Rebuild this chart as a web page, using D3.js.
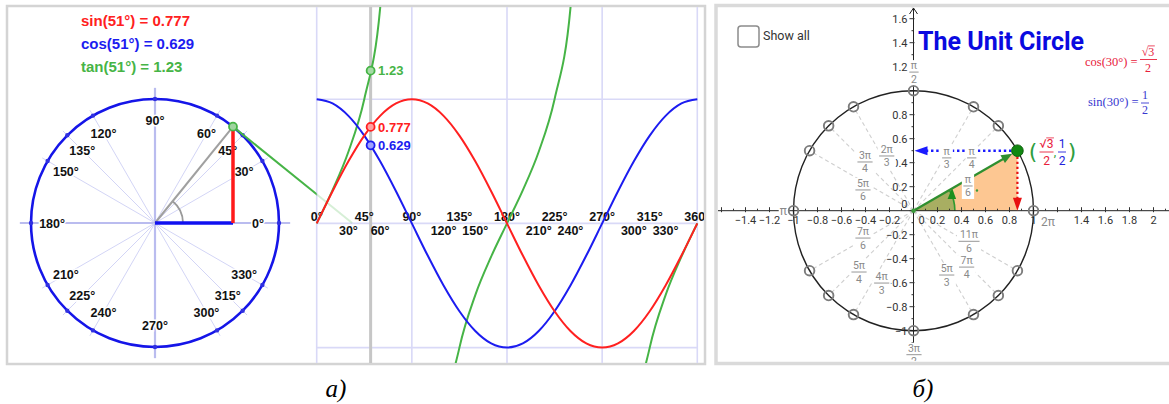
<!DOCTYPE html>
<html><head><meta charset="utf-8">
<script src="https://cdn.jsdelivr.net/npm/d3@7"></script>
<style>
html,body{margin:0;padding:0;background:#fff;}
svg{display:block;font-family:"Liberation Sans",Arial,sans-serif;}
</style></head><body>
<svg id="c" width="1169" height="404"></svg>
<script>
// ---------------- DATA ----------------
const thetaDeg = 51;
const sinTheta = 0.777, cosTheta = 0.629, tanTheta = 1.23;
const readoutTexts = ["sin(51°) = 0.777", "cos(51°) = 0.629", "tan(51°) = 1.23"];
const valueLabels = ["1.23", "0.777", "0.629"];

const circleAngles = [0, 30, 45, 60, 90, 120, 135, 150, 180, 210, 225, 240, 270, 300, 315, 330];
const circleLabels = ["0°","30°","45°","60°","90°","120°","135°","150°","180°","210°","225°","240°","270°","300°","315°","330°"];

const graphTopAngles = [0, 45, 90, 135, 180, 225, 270, 315, 360];
const graphTopLabels = ["0°","45°","90°","135°","180°","225°","270°","315°","360°"];
const graphBottomAngles = [30, 60, 120, 150, 210, 240, 300, 330];
const graphBottomLabels = ["30°","60°","120°","150°","210°","240°","300°","330°"];
const gridAngles = [0, 90, 180, 270, 360];
const gridValues = [-1, 0, 1];

const curveAngles = [0,15,30,45,60,75,90,105,120,135,150,165,180,195,210,225,240,255,270,285,300,315,330,345,360];
const sinValues = [0,0.259,0.5,0.707,0.866,0.966,1,0.966,0.866,0.707,0.5,0.259,0,-0.259,-0.5,-0.707,-0.866,-0.966,-1,-0.966,-0.866,-0.707,-0.5,-0.259,0];
const cosValues = [1,0.966,0.866,0.707,0.5,0.259,0,-0.259,-0.5,-0.707,-0.866,-0.966,-1,-0.966,-0.866,-0.707,-0.5,-0.259,0,0.259,0.5,0.707,0.866,0.966,1];
const tanBranchAngles = [[0,15,30,45,60,75],[105,120,135,150,165,180,195,210,225,240,255],[285,300,315,330,345,360]];
const tanBranchValues = [[0,0.268,0.577,1,1.732,3.732],[-3.732,-1.732,-1,-0.577,-0.268,0,0.268,0.577,1,1.732,3.732],[-3.732,-1.732,-1,-0.577,-0.268,0]];

// right panel
const unitAngles = [0, 30, 45, 60, 90, 120, 135, 150, 180, 210, 225, 240, 270, 300, 315, 330];
const unitNum = ["2π","π","π","π","π","2π","3π","5π","π","7π","5π","4π","3π","5π","7π","11π"];
const unitDen = ["","6","4","3","2","3","4","6","","6","4","3","2","3","4","6"];
const pointAngle = 30;
const pointCos = 0.866, pointSin = 0.5;
const xTickValues = [-1.4,-1.2,-1,-0.8,-0.6,-0.4,-0.2,0.2,0.4,0.6,0.8,1,1.4,1.6,1.8,2];
const xTickLabels = ["−1.4","−1.2","−1","−0.8","−0.6","−0.4","−0.2","0.2","0.4","0.6","0.8","1","1.4","1.6","1.8","2"];
const yTickValues = [-1,-0.8,-0.6,-0.4,-0.2,0.2,0.4,0.6,0.8,1.2,1.4,1.6];
const yTickLabels = ["−1","−0.8","−0.6","−0.4","−0.2","0.2","0.4","0.6","0.8","1.2","1.4","1.6"];
const titleText = "The Unit Circle";
const captions = ["а)", "б)"];

// ---------------- LAYOUT ----------------
const svg = d3.select("#c");
const defs = svg.append("defs");
const rad = d => d * Math.PI / 180;
const C = {sin:"#ff2020", cos:"#1c1cf0", tan:"#46b446", circ:"#1515e8"};
const SANS = "'Liberation Sans', Arial, sans-serif";
const ROBO = "Roboto, 'Liberation Sans', sans-serif";
const SERIF = "'Liberation Serif', 'Times New Roman', serif";

// ===== LEFT FRAME =====
svg.append("rect").attr("x",7).attr("y",6).attr("width",698).attr("height",358)
  .attr("fill","none").attr("stroke","#d4d4d4").attr("stroke-width",2.5);
defs.append("clipPath").attr("id","clipL").append("rect").attr("x",8).attr("y",7).attr("width",696).attr("height",356);
const L = svg.append("g").attr("clip-path","url(#clipL)").style("font-family",SANS);

// unit circle (left)
const cx = 155, cy = 223, R = 124;
const xL = d3.scaleLinear().domain([-1,1]).range([cx-R, cx+R]);
const yL = d3.scaleLinear().domain([-1,1]).range([cy+R, cy-R]);

circleAngles.forEach(a => {
  const axis = a % 90 === 0;
  const ext = axis ? 1.09 : 1.05;
  L.append("line").attr("x1",xL(0)).attr("y1",yL(0))
    .attr("x2",xL(ext*Math.cos(rad(a)))).attr("y2",yL(ext*Math.sin(rad(a))))
    .attr("stroke", axis ? "#babcef" : "#d3d5f6").attr("stroke-width", axis ? 2.2 : 1);
});
L.append("circle").attr("cx",xL(0)).attr("cy",yL(0)).attr("r",xL(1)-xL(0))
  .attr("fill","none").attr("stroke",C.circ).attr("stroke-width",2.6);
L.selectAll(".cdot").data(circleAngles).enter().append("circle")
  .attr("cx",a=>xL(Math.cos(rad(a)))).attr("cy",a=>yL(Math.sin(rad(a)))).attr("r",2.2).attr("fill","#3030e0");
L.selectAll(".clab").data(circleAngles).enter().append("text")
  .attr("x",a=>xL(0.83*Math.cos(rad(a)))).attr("y",a=>yL(0.83*Math.sin(rad(a)))+4.5)
  .attr("text-anchor","middle").attr("font-size",12.5).attr("font-weight","bold").attr("fill","#111")
  .attr("stroke","#fff").attr("stroke-width",3).attr("paint-order","stroke")
  .text((a,i)=>circleLabels[i]);

// angle arc
const arcL = d3.arc().innerRadius(28).outerRadius(28).startAngle(Math.PI/2 - rad(thetaDeg)).endAngle(Math.PI/2);
L.append("path").attr("d",arcL()).attr("transform",`translate(${xL(0)},${yL(0)})`)
  .attr("fill","none").attr("stroke","#9a9a9a").attr("stroke-width",1.8);
L.append("line").attr("x1",xL(0)).attr("y1",yL(0)).attr("x2",xL(cosTheta)).attr("y2",yL(sinTheta))
  .attr("stroke","#a0a0a0").attr("stroke-width",2);
L.append("line").attr("x1",xL(0)).attr("y1",yL(0)).attr("x2",xL(cosTheta)).attr("y2",yL(0))
  .attr("stroke","#1010f0").attr("stroke-width",3.5);
L.append("line").attr("x1",xL(cosTheta)).attr("y1",yL(0)).attr("x2",xL(cosTheta)).attr("y2",yL(sinTheta))
  .attr("stroke","#ff1a1a").attr("stroke-width",3.5);

// readouts
const readColors = [C.sin, C.cos, C.tan];
[25.7, 48.7, 72.3].forEach((b,i)=>{
  L.append("text").attr("x",81).attr("y",b).attr("font-size",15).attr("font-weight","bold")
    .attr("fill",readColors[i]).text(readoutTexts[i]);
});

// ===== MIDDLE GRAPH =====
const xM = d3.scaleLinear().domain([0,360]).range([316.7,697.3]);
const yM = d3.scaleLinear().domain([-1,1]).range([347.6,99.2]);
const gridColor = "#d9d9f7";
gridAngles.forEach(a=>{
  L.append("line").attr("x1",xM(a)).attr("x2",xM(a)).attr("y1",7).attr("y2",364)
    .attr("stroke",gridColor).attr("stroke-width",1.6);
});
gridValues.forEach(v=>{
  L.append("line").attr("x1",xM(0)).attr("x2",xM(360)).attr("y1",yM(v)).attr("y2",yM(v))
    .attr("stroke",gridColor).attr("stroke-width",1.6);
});
L.append("line").attr("x1",xM(thetaDeg)).attr("x2",xM(thetaDeg)).attr("y1",7).attr("y2",364)
  .attr("stroke","#c6c6c6").attr("stroke-width",3);

// axis labels
L.selectAll(".gtop").data(graphTopAngles).enter().append("text")
  .attr("x",a=>xM(a)).attr("y",220.7).attr("text-anchor","middle")
  .attr("font-size",12.5).attr("font-weight","bold").attr("fill","#111").text((a,i)=>graphTopLabels[i]);
L.selectAll(".gbot").data(graphBottomAngles).enter().append("text")
  .attr("x",a=>xM(a)).attr("y",235).attr("text-anchor","middle")
  .attr("font-size",12.5).attr("font-weight","bold").attr("fill","#111").text((a,i)=>graphBottomLabels[i]);

// tangent line from the circle point to the x-axis (faded over the graph view)
const tx1 = xL(cosTheta), ty1 = yL(sinTheta), tx2 = xL(1/cosTheta), ty2 = yL(0);
defs.append("clipPath").attr("id","clipTA").append("rect").attr("x",0).attr("y",0).attr("width",xM(0)).attr("height",404);
defs.append("clipPath").attr("id","clipTB").append("rect").attr("x",xM(0)).attr("y",0).attr("width",400).attr("height",404);
L.append("line").attr("x1",tx1).attr("y1",ty1).attr("x2",tx2).attr("y2",ty2).attr("clip-path","url(#clipTA)")
  .attr("stroke",C.tan).attr("stroke-width",2);
L.append("line").attr("x1",tx1).attr("y1",ty1).attr("x2",tx2).attr("y2",ty2).attr("clip-path","url(#clipTB)")
  .attr("stroke",C.tan).attr("stroke-width",2).attr("opacity",0.22);
L.append("circle").attr("cx",tx1).attr("cy",ty1).attr("r",4).attr("fill","#9fd49f").attr("stroke",C.tan).attr("stroke-width",1.8);

// curves
const line = d3.line().x(d=>xM(d[0])).y(d=>yM(d[1])).curve(d3.curveMonotoneX);
tanBranchAngles.forEach((arr,k)=>{
  L.append("path").attr("d",line(arr.map((a,i)=>[a,tanBranchValues[k][i]])))
    .attr("fill","none").attr("stroke",C.tan).attr("stroke-width",2);
});
L.append("path").attr("d",line(curveAngles.map((a,i)=>[a,cosValues[i]])))
  .attr("fill","none").attr("stroke",C.cos).attr("stroke-width",2);
L.append("path").attr("d",line(curveAngles.map((a,i)=>[a,sinValues[i]])))
  .attr("fill","none").attr("stroke",C.sin).attr("stroke-width",2);

// points at theta
const ptVals = [tanTheta, sinTheta, cosTheta];
const ptCols = [C.tan, C.sin, C.cos];
const ptFill = ["#a6dba6","#ffa0a0","#a0a0ff"];
ptVals.forEach((v,i)=>{
  L.append("circle").attr("cx",xM(thetaDeg)).attr("cy",yM(v)).attr("r",4)
    .attr("fill",ptFill[i]).attr("stroke",ptCols[i]).attr("stroke-width",1.8);
  L.append("text").attr("x",xM(thetaDeg)+7.5).attr("y",yM(v)+4.7)
    .attr("font-size",13).attr("font-weight","bold").attr("fill",ptCols[i]).text(valueLabels[i]);
});

// ===== RIGHT PANEL =====
svg.append("rect").attr("x",716).attr("y",5.5).attr("width",470).attr("height",358)
  .attr("fill","none").attr("stroke","#dadada").attr("stroke-width",3.5);
defs.append("clipPath").attr("id","clipR").append("rect").attr("x",718).attr("y",7.5).attr("width",460).attr("height",353.5);
const G = svg.append("g").attr("clip-path","url(#clipR)").style("font-family",ROBO);
const ox = 913.5, oy = 210.7, U = 120;
const xR = d3.scaleLinear().domain([0,1]).range([ox, ox+U]);
const yR = d3.scaleLinear().domain([0,1]).range([oy, oy-U]);

// filled triangle & sector
G.append("path").attr("d",`M${xR(0)},${yR(0)}L${xR(pointCos)},${yR(0)}L${xR(pointCos)},${yR(pointSin)}Z`)
  .attr("fill","#fdc792");
const sr = xR(0.345)-xR(0);
const sector = d3.arc().innerRadius(0).outerRadius(sr).startAngle(Math.PI/2 - rad(pointAngle)).endAngle(Math.PI/2);
G.append("path").attr("d",sector()).attr("transform",`translate(${ox},${oy})`)
  .attr("fill","#a8ae62").attr("stroke","none");
const sectorArc = d3.arc().innerRadius(sr).outerRadius(sr).startAngle(Math.PI/2 - rad(pointAngle)).endAngle(Math.PI/2);
G.append("path").attr("d",sectorArc()).attr("transform",`translate(${ox},${oy})`)
  .attr("fill","none").attr("stroke","#2f9a2f").attr("stroke-width",1.6);
{
  const a = rad(21), px = xR(0.34*Math.cos(a)), py = yR(0.34*Math.sin(a));
  G.append("path").attr("d",`M${px-4},${py+3}L${px+0.5},${py-8}L${px+4.5},${py+3}Z`).attr("fill","#1e8f1e");
}

// dashed spokes
unitAngles.filter(a=>a%90!==0).forEach(a=>{
  G.append("line").attr("x1",xR(0)).attr("y1",yR(0))
    .attr("x2",xR(Math.cos(rad(a)))).attr("y2",yR(Math.sin(rad(a))))
    .attr("stroke","#cfcfcf").attr("stroke-width",1.1).attr("stroke-dasharray","4,3");
});

// axes
G.append("line").attr("x1",718).attr("x2",1169).attr("y1",oy).attr("y2",oy).attr("stroke","#222").attr("stroke-width",1);
G.append("line").attr("x1",ox).attr("x2",ox).attr("y1",362).attr("y2",8).attr("stroke","#222").attr("stroke-width",1);
G.append("path").attr("d",`M${ox-4},${14}L${ox},${8}L${ox+4},${14}`).attr("fill","none").attr("stroke","#222").attr("stroke-width",1);
d3.range(-16,22).forEach(k=>{
  const v = k/10, major = k%2===0;
  G.append("line").attr("x1",xR(v)).attr("x2",xR(v)).attr("y1",oy-(major?3.5:2)).attr("y2",oy+(major?1.5:0))
    .attr("stroke","#333").attr("stroke-width",1);
});
d3.range(-14,18).forEach(k=>{
  const v = k/10, major = k%2===0;
  G.append("line").attr("y1",yR(v)).attr("y2",yR(v)).attr("x1",ox-(major?4:2)).attr("x2",ox+(major?1:0))
    .attr("stroke","#333").attr("stroke-width",1);
});
G.selectAll(".xt").data(xTickValues).enter().append("text")
  .attr("x",v=>xR(v)).attr("y",oy+13.5).attr("text-anchor","middle")
  .attr("font-size",11).attr("fill","#333").text((v,i)=>xTickLabels[i]);
G.selectAll(".yt").data(yTickValues).enter().append("text")
  .attr("x",ox-6).attr("y",v=>yR(v)+4).attr("text-anchor","end")
  .attr("font-size",11).attr("fill","#333").text((v,i)=>yTickLabels[i]);
G.append("text").attr("x",ox-6).attr("y",oy-3).attr("text-anchor","end").attr("font-size",11).attr("fill","#333").text("0");
G.append("text").attr("x",ox+8).attr("y",oy+13.5).attr("text-anchor","middle").attr("font-size",11).attr("fill","#333").text("0");

// circle
G.append("circle").attr("cx",xR(0)).attr("cy",yR(0)).attr("r",U).attr("fill","none").attr("stroke","#222").attr("stroke-width",1.4);
G.selectAll(".up").data(unitAngles.filter(a=>a!==pointAngle)).enter().append("circle")
  .attr("cx",a=>xR(Math.cos(rad(a)))).attr("cy",a=>yR(Math.sin(rad(a)))).attr("r",4.8)
  .attr("fill","none").attr("stroke","#7c7c7c").attr("stroke-width",1.9);

// angle fraction labels (positions in unit coordinates)
const labelPos = {0:[1.12,-0.092],30:[0.454,0.206],45:[0.485,0.44],60:[0.277,0.44],90:[0.004,1.155],120:[-0.223,0.456],
  135:[-0.404,0.406],150:[-0.421,0.173],180:[-1.085,0.0],210:[-0.421,-0.228],225:[-0.454,-0.511],240:[-0.265,-0.603],
  270:[0.004,-1.2],300:[0.277,-0.536],315:[0.443,-0.47],330:[0.4625,-0.255]};
const FG = svg.append("g").attr("clip-path","url(#clipR)").style("font-family",ROBO);
function fraction(g, x, y, num, den, color, size, family, bg) {
  const grp = g.append("g").style("font-family",family);
  const rect = grp.append("rect");
  const t1 = grp.append("text").attr("x",x).attr("y",y-3).attr("text-anchor","middle")
    .attr("font-size",size).attr("fill",color).text(num);
  const t2 = grp.append("text").attr("x",x).attr("y",y+size).attr("text-anchor","middle")
    .attr("font-size",size).attr("fill",color).text(den);
  const w = Math.max(t1.node().getComputedTextLength(), t2.node().getComputedTextLength()) + 3;
  grp.append("line").attr("x1",x-w/2).attr("x2",x+w/2).attr("y1",y).attr("y2",y).attr("stroke",color).attr("stroke-width",0.9);
  if (bg) rect.attr("x",x-w/2-1.5).attr("y",y-size-1.5).attr("width",w+3).attr("height",2*size+4).attr("fill","#fff");
  return grp;
}
unitAngles.forEach((a,i)=>{
  if (a===30 || a===45 || a===60) return;
  const [ux,uy] = labelPos[a];
  if (unitDen[i] === "") {
    const t = FG.append("text").attr("x",xR(ux)).attr("y",yR(uy)+4).attr("text-anchor","middle")
      .attr("font-size",12).attr("fill","#8a8a8a").text(unitNum[i]);
    const w = t.node().getComputedTextLength();
    FG.insert("rect",()=>t.node()).attr("x",xR(ux)-w/2-1).attr("y",yR(uy)-5).attr("width",w+2).attr("height",10).attr("fill","#fff");
  } else {
    fraction(FG, xR(ux), yR(uy), unitNum[i], unitDen[i], "#8a8a8a", 10.5, ROBO, true);
  }
});

// dotted projection arrows
const P = [xR(pointCos), yR(pointSin)];
const AG = svg.append("g").style("font-family",ROBO);
AG.append("line").attr("x1",P[0]-6).attr("x2",xR(0)+12).attr("y1",P[1]).attr("y2",P[1])
  .attr("stroke","#1a1aff").attr("stroke-width",2.6).attr("stroke-dasharray","2.4,2.8");
AG.append("path").attr("d",`M${xR(0)+1},${P[1]}L${xR(0)+14},${P[1]-4.5}L${xR(0)+14},${P[1]+4.5}Z`).attr("fill","#1a1aff");
AG.append("line").attr("x1",P[0]).attr("x2",P[0]).attr("y1",P[1]+6).attr("y2",yR(0)-12)
  .attr("stroke","#e81010").attr("stroke-width",2.2).attr("stroke-dasharray","2.4,2.6");
AG.append("path").attr("d",`M${P[0]},${yR(0)}L${P[0]-4.5},${yR(0)-13}L${P[0]+4.5},${yR(0)-13}Z`).attr("fill","#e81010");
[60,45].forEach(a=>{
  const i = unitAngles.indexOf(a);
  fraction(AG, xR(labelPos[a][0]), yR(labelPos[a][1]), unitNum[i], unitDen[i], "#8a8a8a", 10.5, ROBO, true);
});
// green vector
const vx = P[0]-xR(0), vy = P[1]-yR(0), vl = Math.hypot(vx,vy);
const ux_ = vx/vl, uy_ = vy/vl;
const tip = [P[0]-ux_*6, P[1]-uy_*6];
AG.append("line").attr("x1",xR(0)).attr("y1",yR(0)).attr("x2",tip[0]-ux_*8).attr("y2",tip[1]-uy_*8)
  .attr("stroke","#2f8f2f").attr("stroke-width",2.2);
AG.append("path").attr("d",`M${tip[0]},${tip[1]}L${tip[0]-ux_*11-uy_*4.5},${tip[1]-uy_*11+ux_*4.5}L${tip[0]-ux_*11+uy_*4.5},${tip[1]-uy_*11-ux_*4.5}Z`)
  .attr("fill","#2f8f2f");
AG.append("circle").attr("cx",xR(0)).attr("cy",yR(0)).attr("r",2.2).attr("fill","#3a9a3a");
{
  const i = unitAngles.indexOf(30);
  fraction(AG, xR(labelPos[30][0]), yR(labelPos[30][1]), unitNum[i], unitDen[i], "#8a8a8a", 10.5, ROBO, true);
  AG.append("circle").attr("cx",xR(labelPos[30][0])+9).attr("cy",yR(labelPos[30][1])+4.5).attr("r",1.2).attr("fill","#3a9a3a");
}
AG.append("circle").attr("cx",P[0]).attr("cy",P[1]).attr("r",5.8).attr("fill","#118811").attr("stroke","#0b5e0b").attr("stroke-width",1);

// point label (√3/2, 1/2)
function sqrtText(g, x, y, digit, color, size, family) {
  const t = g.append("text").attr("x",x).attr("y",y).attr("text-anchor","middle")
    .style("font-family",family).attr("font-size",size).attr("fill",color);
  t.append("tspan").text("√");
  t.append("tspan").text(digit);
  const n = t.node();
  const full = n.getComputedTextLength();
  const s0 = n.getSubStringLength(0,1);
  const left = x - full/2;
  g.append("line").attr("x1",left+s0-0.5).attr("x2",left+full+0.5).attr("y1",y-size*0.8).attr("y2",y-size*0.8)
    .attr("stroke",color).attr("stroke-width",0.8);
}
AG.append("text").attr("x",1033).attr("y",159).attr("text-anchor","middle").style("font-family","'DejaVu Sans'").attr("font-size",22).attr("fill","#2e9e40").text("(");
AG.append("text").attr("x",1072).attr("y",159).attr("text-anchor","middle").style("font-family","'DejaVu Sans'").attr("font-size",22).attr("fill","#2e9e40").text(")");
AG.append("text").attr("x",1055).attr("y",156).attr("text-anchor","middle").attr("font-size",12).attr("fill","#2e9e40").text(",");
sqrtText(AG, 1046.5, 147.5, "3", "#e8203a", 12, ROBO);
AG.append("line").attr("x1",1039.5).attr("x2",1053.5).attr("y1",152).attr("y2",152).attr("stroke","#e8203a").attr("stroke-width",0.9);
AG.append("text").attr("x",1046.5).attr("y",165).attr("text-anchor","middle").attr("font-size",12).attr("fill","#e8203a").text("2");
AG.append("text").attr("x",1062).attr("y",147.5).attr("text-anchor","middle").attr("font-size",12).attr("fill","#2222dd").text("1");
AG.append("line").attr("x1",1058).attr("x2",1066).attr("y1",152).attr("y2",152).attr("stroke","#2222dd").attr("stroke-width",0.9);
AG.append("text").attr("x",1062).attr("y",165).attr("text-anchor","middle").attr("font-size",12).attr("fill","#2222dd").text("2");

// title, checkbox, formulas
svg.append("text").attr("x",918).attr("y",50).style("font-family",ROBO).attr("font-weight","bold")
  .attr("font-size",25).attr("fill","#0a0ae0").text(titleText);
svg.append("rect").attr("x",738).attr("y",26).attr("width",21).attr("height",21).attr("rx",3)
  .attr("fill","#fff").attr("stroke","#8c8c8c").attr("stroke-width",1.5);
svg.append("text").attr("x",763).attr("y",40).style("font-family",ROBO).attr("font-size",12.5).attr("fill","#333").text("Show all");
svg.append("text").attr("x",1085).attr("y",66).style("font-family",SERIF).attr("font-size",12.5).attr("fill","#e8203a").text("cos(30°) =");
sqrtText(svg, 1148, 55.5, "3", "#e8203a", 12, SERIF);
svg.append("line").attr("x1",1140).attr("x2",1157).attr("y1",59.5).attr("y2",59.5).attr("stroke","#e8203a").attr("stroke-width",0.9);
svg.append("text").attr("x",1148).attr("y",72).attr("text-anchor","middle").style("font-family",SERIF).attr("font-size",12).attr("fill","#e8203a").text("2");
svg.append("text").attr("x",1088).attr("y",106).style("font-family",SERIF).attr("font-size",12.5).attr("fill","#3838d0").text("sin(30°) =");
svg.append("text").attr("x",1145).attr("y",99).attr("text-anchor","middle").style("font-family",SERIF).attr("font-size",12).attr("fill","#3838d0").text("1");
svg.append("line").attr("x1",1141).attr("x2",1149).attr("y1",103).attr("y2",103).attr("stroke","#3838d0").attr("stroke-width",0.9);
svg.append("text").attr("x",1145).attr("y",114).attr("text-anchor","middle").style("font-family",SERIF).attr("font-size",12).attr("fill","#3838d0").text("2");

// captions
[336, 923].forEach((x,i)=>{
  svg.append("text").attr("x",x).attr("y",397).attr("text-anchor","middle")
    .style("font-family",SERIF).attr("font-style","italic").attr("font-size",25).attr("fill","#000").text(captions[i]);
});
</script>
</body></html>
